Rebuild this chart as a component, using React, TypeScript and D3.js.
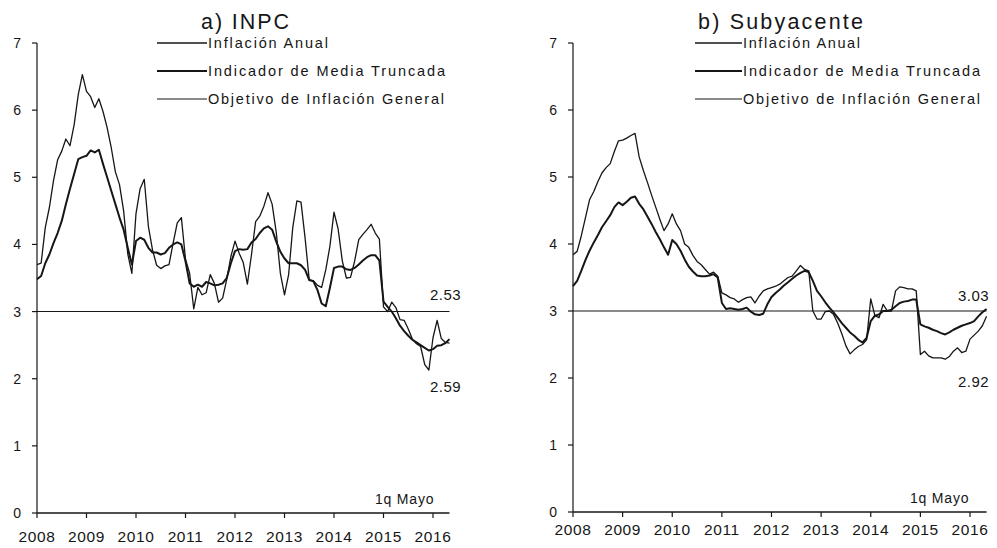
import React from "react";
import * as d3 from "d3";

// Monthly data, Jan 2008 - May 2016 (1q Mayo)
const yearTicks = [2008, 2009, 2010, 2011, 2012, 2013, 2014, 2015, 2016];
const yTicks = [0, 1, 2, 3, 4, 5, 6, 7];
const legendLabels = ["Inflación Anual", "Indicador de Media Truncada", "Objetivo de Inflación General"];
const target = 3;

const inpcAnual = [
  3.70, 3.72, 4.25, 4.55, 4.95, 5.26, 5.39, 5.57, 5.47, 5.78, 6.23, 6.53,
  6.28, 6.20, 6.04, 6.17, 5.98, 5.74, 5.44, 5.08, 4.89, 4.50, 3.86, 3.57,
  4.46, 4.83, 4.97, 4.27, 3.92, 3.69, 3.64, 3.68, 3.70, 4.02, 4.32, 4.40,
  3.78, 3.57, 3.04, 3.36, 3.25, 3.28, 3.55, 3.42, 3.14, 3.20, 3.48, 3.82,
  4.05, 3.87, 3.73, 3.41, 3.85, 4.34, 4.42, 4.57, 4.77, 4.60, 4.18, 3.57,
  3.25, 3.55, 4.25, 4.65, 4.63, 4.09, 3.47, 3.46, 3.39, 3.36, 3.62, 3.97,
  4.48, 4.23, 3.76, 3.50, 3.51, 3.75, 4.07, 4.15, 4.22, 4.30, 4.17, 4.08,
  3.07, 3.00, 3.14, 3.06, 2.88, 2.87, 2.74, 2.59, 2.52, 2.48, 2.21, 2.13,
  2.61, 2.87, 2.60, 2.54, 2.53,
];

const inpcMediaTruncada = [
  3.48, 3.53, 3.72, 3.85, 4.02, 4.17, 4.35, 4.60, 4.83, 5.05, 5.27, 5.30,
  5.32, 5.40, 5.37, 5.41, 5.20, 5.00, 4.80, 4.60, 4.40, 4.22, 3.95, 3.70,
  4.05, 4.10, 4.07, 3.95, 3.88, 3.88, 3.85, 3.87, 3.95, 4.00, 4.03, 4.00,
  3.75, 3.42, 3.37, 3.40, 3.37, 3.44, 3.42, 3.39, 3.40, 3.42, 3.50, 3.72,
  3.90, 3.93, 3.92, 3.93, 4.03, 4.08, 4.17, 4.24, 4.27, 4.22, 4.04, 3.89,
  3.79, 3.72, 3.72, 3.72, 3.69, 3.62, 3.47, 3.45, 3.32, 3.12, 3.08, 3.35,
  3.65, 3.67, 3.67, 3.63, 3.62, 3.65, 3.70, 3.76, 3.81, 3.84, 3.84, 3.76,
  3.15, 3.07, 3.00, 2.90, 2.79, 2.71, 2.64, 2.58, 2.54, 2.50, 2.46, 2.42,
  2.44, 2.49, 2.50, 2.53, 2.59,
];

const subAnual = [
  3.84, 3.89, 4.12, 4.39, 4.66, 4.78, 4.93, 5.06, 5.14, 5.20, 5.38, 5.54,
  5.55, 5.58, 5.62, 5.65, 5.30, 5.10, 4.92, 4.73, 4.55, 4.37, 4.20, 4.30,
  4.45, 4.30, 4.20, 4.00, 3.95, 3.83, 3.74, 3.69, 3.62, 3.55, 3.58, 3.52,
  3.27, 3.24, 3.20, 3.18, 3.13, 3.17, 3.20, 3.21, 3.12, 3.22, 3.30, 3.33,
  3.35, 3.37, 3.40, 3.45, 3.50, 3.52, 3.60, 3.68, 3.62, 3.60, 3.00, 2.88,
  2.88, 2.99, 3.00, 2.95, 2.82, 2.66, 2.48, 2.36, 2.42, 2.47, 2.50, 2.57,
  3.18, 2.93, 2.90, 3.10, 3.00, 3.00, 3.30, 3.36, 3.35, 3.33, 3.33, 3.30,
  2.35, 2.40, 2.33, 2.30, 2.30, 2.30, 2.28, 2.32, 2.40, 2.45, 2.38, 2.40,
  2.58, 2.64, 2.70, 2.78, 2.92,
];

const subMediaTruncada = [
  3.37, 3.45, 3.60, 3.76, 3.90, 4.02, 4.13, 4.25, 4.34, 4.43, 4.55, 4.62,
  4.58, 4.63, 4.69, 4.71, 4.60, 4.52, 4.41, 4.30, 4.18, 4.07, 3.95, 3.84,
  4.06, 4.00, 3.90, 3.77, 3.66, 3.59, 3.53, 3.52, 3.52, 3.53, 3.55, 3.50,
  3.12, 3.03, 3.04, 3.03, 3.02, 3.03, 3.05, 2.99, 2.95, 2.94, 2.96, 3.10,
  3.21, 3.27, 3.32, 3.38, 3.43, 3.48, 3.53, 3.57, 3.60, 3.58, 3.45, 3.30,
  3.22, 3.13, 3.05, 2.98, 2.90, 2.82, 2.75, 2.68, 2.63, 2.57, 2.53, 2.60,
  2.85, 2.93, 2.95, 3.00, 3.00, 3.02, 3.07, 3.12, 3.14, 3.15, 3.17, 3.17,
  2.80, 2.77, 2.75, 2.72, 2.70, 2.67, 2.65, 2.68, 2.72, 2.75, 2.78, 2.80,
  2.82, 2.85, 2.92, 2.98, 3.03,
];

const FONT = "'Liberation Sans', Arial, Helvetica, sans-serif";
const INK = "#161616";

type PanelCfg = {
  title: string;
  titleX: number;
  titleW: number;
  x0: number;
  x2016: number;
  yBottom: number;
  yTop: number;
  anual: number[];
  mt: number[];
  legendX1: number;
  legendX2: number;
  legendW: number[];
  labelTop: string;
  labelBottom: string;
  labelX: number;
  labelTopY: number;
  labelBottomY: number;
  mayoX: number;
  mayoY: number;
  yLabelX: number;
  xLabelY: number;
};

const panels: PanelCfg[] = [
  {
    title: "a) INPC", titleX: 201, titleW: 88,
    x0: 37, x2016: 433, yBottom: 513, yTop: 43,
    anual: inpcAnual, mt: inpcMediaTruncada,
    legendX1: 157, legendX2: 207, legendW: [120, 237, 236],
    labelTop: "2.53", labelBottom: "2.59", labelX: 430, labelTopY: 300, labelBottomY: 392,
    mayoX: 375, mayoY: 504, yLabelX: 21, xLabelY: 542,
  },
  {
    title: "b) Subyacente", titleX: 698, titleW: 165,
    x0: 573, x2016: 970, yBottom: 512, yTop: 43,
    anual: subAnual, mt: subMediaTruncada,
    legendX1: 695, legendX2: 742, legendW: [117, 237, 237],
    labelTop: "3.03", labelBottom: "2.92", labelX: 958, labelTopY: 301, labelBottomY: 387,
    mayoX: 910, mayoY: 503, yLabelX: 557, xLabelY: 535,
  },
];

const legendYs = [43, 71, 99];
const legendWidths = [1.3, 2.1, 1.1];

function Panel({ cfg }: { cfg: PanelCfg }) {
  const x = d3.scaleLinear().domain([2008, 2016]).range([cfg.x0, cfg.x2016]);
  const y = d3.scaleLinear().domain([0, 7]).range([cfg.yBottom, cfg.yTop]);
  const tOf = (i: number) => 2008 + i / 12;
  const line = d3
    .line<number>()
    .x((_, i) => x(tOf(i)))
    .y((d) => y(d));
  const n = cfg.anual.length;
  const xEnd = x(tOf(n - 1));
  return (
    <g>
      <text x={cfg.titleX} y={29} fontSize={21.5} fontFamily={FONT} fill={INK}
        textLength={cfg.titleW} lengthAdjust="spacing">{cfg.title}</text>
      {/* legend */}
      {legendLabels.map((lab, i) => (
        <g key={lab}>
          <line x1={cfg.legendX1} x2={cfg.legendX2} y1={legendYs[i]} y2={legendYs[i]}
            stroke={INK} strokeWidth={legendWidths[i]} />
          <text x={cfg.legendX2 + 1} y={legendYs[i] + 5} fontSize={14.5} fontFamily={FONT} fill={INK}
            textLength={cfg.legendW[i]} lengthAdjust="spacing">{lab}</text>
        </g>
      ))}
      {/* axes */}
      <line x1={cfg.x0} x2={cfg.x0} y1={y(0)} y2={y(7)} stroke={INK} strokeWidth={1.2} />
      <line x1={cfg.x0} x2={xEnd} y1={y(0)} y2={y(0)} stroke={INK} strokeWidth={1.4} />
      {yTicks.map((t) => (
        <g key={"y" + t}>
          <line x1={cfg.x0 - 5} x2={cfg.x0} y1={y(t)} y2={y(t)} stroke={INK} strokeWidth={1.2} />
          <text x={cfg.yLabelX} y={y(t) + 5} textAnchor="end" fontSize={14} fontFamily={FONT} fill={INK}>{t}</text>
        </g>
      ))}
      {yearTicks.map((t) => (
        <g key={"x" + t}>
          <line x1={x(t)} x2={x(t)} y1={y(0)} y2={y(0) + 5} stroke={INK} strokeWidth={1.2} />
          <text x={x(t)} y={cfg.xLabelY} textAnchor="middle" fontSize={15.5} fontFamily={FONT} fill={INK}
            letterSpacing={0.6}>{t}</text>
        </g>
      ))}
      {/* target */}
      <line x1={cfg.x0} x2={xEnd} y1={y(target)} y2={y(target)} stroke={INK} strokeWidth={1.1} />
      {/* series */}
      <path d={line(cfg.anual) || ""} fill="none" stroke={INK} strokeWidth={1.3} strokeLinejoin="round" />
      <path d={line(cfg.mt) || ""} fill="none" stroke={INK} strokeWidth={2.0} strokeLinejoin="round" />
      {/* annotations */}
      <text x={cfg.labelX} y={cfg.labelTopY} fontSize={15} fontFamily={FONT} fill={INK} letterSpacing={0.5}>{cfg.labelTop}</text>
      <text x={cfg.labelX} y={cfg.labelBottomY} fontSize={15} fontFamily={FONT} fill={INK} letterSpacing={0.5}>{cfg.labelBottom}</text>
      <text x={cfg.mayoX} y={cfg.mayoY} fontSize={14} fontFamily={FONT} fill={INK} letterSpacing={0.8}>1q Mayo</text>
    </g>
  );
}

export default function App() {
  return (
    <div style={{ position: "absolute", left: 0, top: 0, width: 997, height: 548, background: "#fff" }}>
      <svg width={997} height={548} viewBox="0 0 997 548" style={{ display: "block" }}>
        <rect width={997} height={548} fill="#fff" />
        {panels.map((p) => (
          <Panel key={p.title} cfg={p} />
        ))}
      </svg>
    </div>
  );
}
